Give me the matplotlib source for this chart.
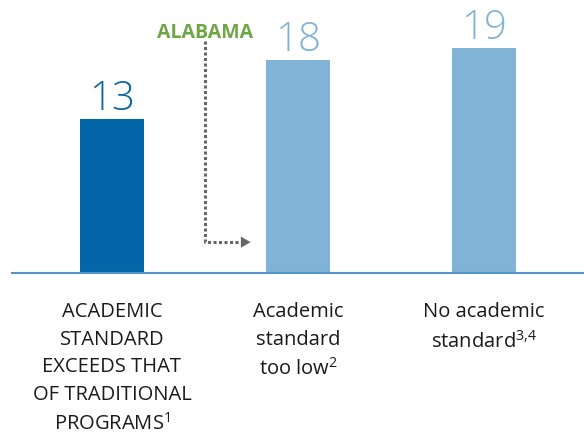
import matplotlib
matplotlib.use("Agg")
import matplotlib.pyplot as plt

categories = ["ACADEMIC\nSTANDARD\nEXCEEDS THAT\nOF TRADITIONAL\nPROGRAMS$^{1}$",
              "Academic\nstandard\ntoo low$^{2}$",
              "No academic\nstandard$^{3{,}4}$"]
values = [13, 18, 19]
bar_colors = ["#0366a8", "#80b3d5", "#80b3d5"]
label_colors = ["#0a64a5", "#80b3d5", "#80b3d5"]
annot_text = "ALABAMA"

plt.rcParams['font.family'] = ['Open Sans', 'DejaVu Sans']
plt.rcParams['mathtext.fontset'] = 'custom'
plt.rcParams['mathtext.rm'] = 'Open Sans'
plt.rcParams['mathtext.it'] = 'Open Sans'
plt.rcParams['mathtext.default'] = 'regular'

W, H = 584, 438
fig = plt.figure(figsize=(W / 100, H / 100), dpi=100)
ax_left, ax_right, base_y = 12, 584, 273
ax = fig.add_axes([ax_left / W, (H - base_y) / H, (ax_right - ax_left) / W, base_y / H])

spacing = 186.0
c0 = 112 - ax_left
x = list(range(len(values)))
ax.bar(x, values, width=64 / spacing, color=bar_colors, zorder=2)
ax.set_xlim(-c0 / spacing, -c0 / spacing + (ax_right - ax_left) / spacing)
ax.set_ylim(0, base_y / 11.85)
ax.axhline(0, color="#4f95c8", lw=1.5, zorder=3, clip_on=False)

for xi, v, c in zip(x, values, label_colors):
    ax.annotate(str(v), (xi, v), xytext=(0, -1), textcoords="offset points",
                ha="center", va="bottom", fontsize=29, color=c, fontweight="light")

for xi, lab in zip(x, categories):
    ax.annotate(lab, (xi, 0), xytext=(0, -21), textcoords="offset points",
                ha="center", va="top", fontsize=14.5, color="#1a1a1a",
                linespacing=1.5, multialignment="center")

# Alabama annotation
ax_x = 0.5
ax.text(ax_x, 20.25, annot_text, ha="center", va="center", fontsize=14,
        fontweight="bold", color="#6ea646")
ax.plot([ax_x, ax_x, 0.70], [19.6, 2.6, 2.6], color="#666666", lw=2.2,
        linestyle=(0, (1, 0.8)), solid_capstyle="butt", dash_capstyle="butt")
ax.annotate("", xy=(0.76, 2.6), xytext=(0.70, 2.6),
            arrowprops=dict(arrowstyle="-|>,head_length=0.7,head_width=0.4",
                            color="#666666", lw=0))

ax.axis("off")
fig.savefig("out.png", dpi=100)
